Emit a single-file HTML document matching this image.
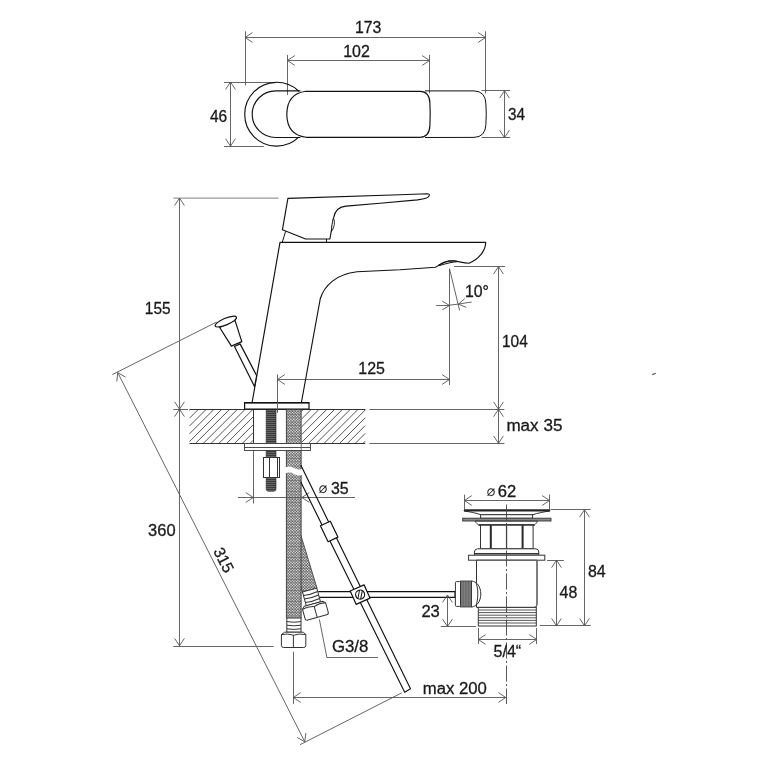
<!DOCTYPE html>
<html lang="en"><head><meta charset="utf-8"><title>Faucet dimensions</title>
<style>
html,body{margin:0;padding:0;background:#fff}
body{width:768px;height:768px;overflow:hidden}
svg{display:block;will-change:transform}
text{font-family:"Liberation Sans",Arial,sans-serif;fill:#1a1a1a;stroke:#1a1a1a;stroke-width:.3px}
.d{stroke:#555;stroke-width:.9;fill:none}
.g{stroke:#999;stroke-width:1.4;fill:none}
.k{stroke:#111;stroke-width:1.15;fill:none;stroke-linejoin:round;stroke-linecap:round}
.kt{stroke:#111;stroke-width:1;fill:none;stroke-linejoin:round}
.kw{stroke:#111;stroke-width:1.2;fill:#fff;stroke-linejoin:round}
.m{stroke:#333;stroke-width:1;fill:none}
.mw{stroke:#333;stroke-width:1;fill:#fff}
</style></head><body>
<svg width="768" height="768" viewBox="0 0 768 768">
<defs>
<pattern id="braid" patternUnits="userSpaceOnUse" width="11" height="11" x="286.3" y="409">
<rect width="11" height="11" fill="#383838"/>
<g fill="#fff"><circle cx="0.700" cy="0.700" r=".8"/><circle cx="2.075" cy="2.075" r=".8"/><circle cx="0.700" cy="3.450" r=".8"/><circle cx="2.075" cy="4.825" r=".8"/><circle cx="0.700" cy="6.200" r=".8"/><circle cx="2.075" cy="7.575" r=".8"/><circle cx="0.700" cy="8.950" r=".8"/><circle cx="2.075" cy="10.325" r=".8"/><circle cx="3.450" cy="0.700" r=".8"/><circle cx="4.825" cy="2.075" r=".8"/><circle cx="3.450" cy="3.450" r=".8"/><circle cx="4.825" cy="4.825" r=".8"/><circle cx="3.450" cy="6.200" r=".8"/><circle cx="4.825" cy="7.575" r=".8"/><circle cx="3.450" cy="8.950" r=".8"/><circle cx="4.825" cy="10.325" r=".8"/><circle cx="6.200" cy="0.700" r=".8"/><circle cx="7.575" cy="2.075" r=".8"/><circle cx="6.200" cy="3.450" r=".8"/><circle cx="7.575" cy="4.825" r=".8"/><circle cx="6.200" cy="6.200" r=".8"/><circle cx="7.575" cy="7.575" r=".8"/><circle cx="6.200" cy="8.950" r=".8"/><circle cx="7.575" cy="10.325" r=".8"/><circle cx="8.950" cy="0.700" r=".8"/><circle cx="10.325" cy="2.075" r=".8"/><circle cx="8.950" cy="3.450" r=".8"/><circle cx="10.325" cy="4.825" r=".8"/><circle cx="8.950" cy="6.200" r=".8"/><circle cx="10.325" cy="7.575" r=".8"/><circle cx="8.950" cy="8.950" r=".8"/><circle cx="10.325" cy="10.325" r=".8"/></g>
</pattern>
<pattern id="thread" patternUnits="userSpaceOnUse" width="4" height="2">
<rect width="4" height="2" fill="#3a3a3a"/>
<rect width="4" height=".7" fill="#777"/>
</pattern>
<pattern id="knurl" patternUnits="userSpaceOnUse" width="1.6" height="4">
<rect width="1.6" height="4" fill="#6a6a6a"/>
<rect width=".6" height="4" fill="#858585"/>
</pattern>
</defs>
<rect width="768" height="768" fill="#fff"/>

<g id="top-view">
<line class="d" x1="245.50" y1="31.30" x2="245.50" y2="85.50"/>
<line class="d" x1="485.50" y1="31.30" x2="485.50" y2="93.40"/>
<line class="d" x1="245.10" y1="37.50" x2="485.60" y2="37.50"/>
<polyline class="d" points="252.50,32.60 245.10,37.50 252.50,42.40"/>
<polyline class="d" points="478.20,42.40 485.60,37.50 478.20,32.60"/>
<line class="d" x1="287.50" y1="54.90" x2="287.50" y2="95.00"/>
<line class="d" x1="429.50" y1="54.90" x2="429.50" y2="93.40"/>
<line class="d" x1="287.40" y1="60.50" x2="429.60" y2="60.50"/>
<polyline class="d" points="294.80,55.60 287.40,60.50 294.80,65.40"/>
<polyline class="d" points="422.20,65.40 429.60,60.50 422.20,55.60"/>
<line class="d" x1="230.50" y1="82.00" x2="230.50" y2="146.10"/>
<polyline class="d" points="235.40,89.40 230.50,82.00 225.60,89.40"/>
<polyline class="d" points="225.60,138.70 230.50,146.10 235.40,138.70"/>
<line class="d" x1="224.00" y1="82.50" x2="274.70" y2="82.50"/>
<line class="d" x1="224.00" y1="146.50" x2="263.80" y2="146.50"/>
<line class="d" x1="504.50" y1="90.70" x2="504.50" y2="137.60"/>
<polyline class="d" points="509.40,98.10 504.50,90.70 499.60,98.10"/>
<polyline class="d" points="499.60,130.20 504.50,137.60 509.40,130.20"/>
<line class="d" x1="481.50" y1="90.50" x2="510.20" y2="90.50"/>
<line class="d" x1="481.50" y1="137.50" x2="510.20" y2="137.50"/>
<text x="354.90" y="33.00" font-size="16" textLength="26.4" lengthAdjust="spacingAndGlyphs">173</text>
<text x="343.20" y="57.00" font-size="16" textLength="26.6" lengthAdjust="spacingAndGlyphs">102</text>
<text x="210.00" y="122.00" font-size="16" textLength="17.2" lengthAdjust="spacingAndGlyphs">46</text>
<text x="508.00" y="120.00" font-size="16" textLength="17.0" lengthAdjust="spacingAndGlyphs">34</text>
<path class="k" d="M298.5,91 A31.9,31.9 0 1 0 298.5,137.4"/>
<path class="k" d="M300,90.9 L275.6,90.9 A23.4,23.3 0 0 0 275.6,137.5 L300,137.5"/>
<path class="kt" d="M425,90.9 L474,90.9 Q485.6,91.2 485.9,104 Q486.6,114.2 485.9,124.5 Q485.4,137 474,137.4 L425,137.5"/>
<path class="k" stroke-width="1.6" d="M306,91.3 L420,91.3 Q429.6,91.5 429.9,103 Q430.5,114.2 429.9,125.6 Q429.4,137 420,137.3 L306,137.3 Q287,135 286.8,114.3 Q287,93.6 306,91.3 Z"/>
</g>
<g id="side-view">
<line class="g" x1="173.30" y1="198.10" x2="278.50" y2="198.10"/>
<line class="d" x1="179.50" y1="198.10" x2="179.50" y2="645.80"/>
<polyline class="d" points="184.40,205.50 179.50,198.10 174.60,205.50"/>
<polyline class="d" points="174.60,401.80 179.50,409.20 184.40,401.80"/>
<polyline class="d" points="184.40,416.60 179.50,409.20 174.60,416.60"/>
<polyline class="d" points="174.60,638.40 179.50,645.80 184.40,638.40"/>
<line class="d" x1="173.30" y1="409.50" x2="188.00" y2="409.50"/>
<line class="d" x1="173.30" y1="646.50" x2="273.60" y2="646.50"/>
<text x="144.80" y="314.00" font-size="16" textLength="25.8" lengthAdjust="spacingAndGlyphs">155</text>
<text x="148.10" y="536.00" font-size="16" textLength="27.5" lengthAdjust="spacingAndGlyphs">360</text>
<line class="d" x1="117.80" y1="372.70" x2="304.80" y2="741.80"/>
<polyline class="d" points="125.52,377.09 117.80,372.70 116.77,381.52"/>
<polyline class="d" points="297.08,737.41 304.80,741.80 305.83,732.98"/>
<line class="d" x1="112.30" y1="374.60" x2="216.70" y2="322.00"/>
<line class="d" x1="300.00" y1="744.70" x2="401.70" y2="692.90"/>
<text font-size="16" text-anchor="middle" textLength="26" lengthAdjust="spacingAndGlyphs" transform="translate(223.9,559.9) rotate(63.13)" x="0" y="5.7">315</text>
<line class="d" x1="277.50" y1="374.50" x2="277.50" y2="412.50"/>
<line class="d" x1="449.50" y1="268.70" x2="449.50" y2="385.00"/>
<line class="d" x1="277.40" y1="379.50" x2="449.50" y2="379.50"/>
<polyline class="d" points="284.80,374.60 277.40,379.50 284.80,384.40"/>
<polyline class="d" points="442.10,384.40 449.50,379.50 442.10,374.60"/>
<text x="358.30" y="374.00" font-size="16" textLength="26.6" lengthAdjust="spacingAndGlyphs">125</text>
<line class="d" x1="454.00" y1="266.50" x2="505.00" y2="266.50"/>
<line class="d" x1="498.50" y1="266.60" x2="498.50" y2="443.30"/>
<polyline class="d" points="503.40,274.00 498.50,266.60 493.60,274.00"/>
<polyline class="d" points="493.60,401.90 498.50,409.30 503.40,401.90"/>
<polyline class="d" points="503.40,416.70 498.50,409.30 493.60,416.70"/>
<polyline class="d" points="493.60,435.90 498.50,443.30 503.40,435.90"/>
<text x="502.00" y="347.00" font-size="16" textLength="25.8" lengthAdjust="spacingAndGlyphs">104</text>
<line class="d" x1="369.40" y1="409.50" x2="504.40" y2="409.50"/>
<line class="d" x1="369.40" y1="443.50" x2="504.40" y2="443.50"/>
<text x="506.40" y="431.00" font-size="16" textLength="56.0" lengthAdjust="spacingAndGlyphs">max 35</text>
<line class="d" x1="449.50" y1="268.70" x2="459.60" y2="310.40"/>
<line class="d" x1="436.20" y1="305.50" x2="449.50" y2="305.50"/>
<line class="d" x1="449.50" y1="305.20" x2="458.30" y2="304.10"/>
<polyline class="d" points="442.20,309.90 449.50,305.50 442.20,301.10"/>
<line class="d" x1="471.70" y1="302.00" x2="458.30" y2="304.10"/>
<polyline class="d" points="464.83,298.62 458.30,304.10 466.19,307.32"/>
<text x="464.90" y="297.00" font-size="16" textLength="24.0" lengthAdjust="spacingAndGlyphs">10°</text>
<path d="M190.40,409.50L189.50,410.40M198.20,409.50L189.50,418.20M206.00,409.50L189.50,426.00M213.80,409.50L189.50,433.80M221.60,409.50L189.50,441.60M229.40,409.50L195.40,443.50M237.20,409.50L203.20,443.50M245.00,409.50L211.00,443.50M252.80,409.50L218.80,443.50M253.30,416.80L226.60,443.50M253.30,424.60L234.40,443.50M253.30,432.40L242.20,443.50M253.30,440.20L250.00,443.50" stroke="#2a2a2a" stroke-width=".8" fill="none"/>
<path d="M303.30,409.50L301.70,411.10M311.10,409.50L301.70,418.90M318.90,409.50L301.70,426.70M326.70,409.50L301.70,434.50M334.50,409.50L301.70,442.30M342.30,409.50L308.30,443.50M350.10,409.50L316.10,443.50M357.90,409.50L323.90,443.50M365.30,409.90L331.70,443.50M365.30,417.70L339.50,443.50M365.30,425.50L347.30,443.50M365.30,433.30L355.10,443.50M365.30,441.10L362.90,443.50" stroke="#2a2a2a" stroke-width=".8" fill="none"/>
<line class="m" x1="189.50" y1="409.50" x2="365.30" y2="409.50"/>
<line class="m" x1="189.50" y1="443.50" x2="365.30" y2="443.50"/>
<line class="m" x1="253.50" y1="409.30" x2="253.50" y2="443.30"/>
<path d="M266.2,409.5 L276,409.5 L276,489 Q276,491.3 273.6,491.3 L268.6,491.3 Q266.2,491.3 266.2,489 Z" fill="url(#thread)" stroke="#222" stroke-width=".6"/>
<path d="M300.8,535 L317,588.2 L302.4,592 L292,555 Z" fill="url(#braid)" stroke="#333" stroke-width=".8"/>
<rect x="286.4" y="409.5" width="14.8" height="208.6" fill="url(#braid)"/>
<path d="M286.4,409.5 V618 M301.1,409.5 V618" stroke="#444" stroke-width="1" fill="none"/>
<path d="M285,467.5 Q290,465.5 294,468 Q298,470.5 303,468.5 L303,474.5 Q298,476.5 294,474 Q290,471.5 285,473.5 Z" fill="#fff"/>
<rect x="244.5" y="443.5" width="66" height="7" fill="#fff" stroke="#3a3a3a" stroke-width=".9"/>
<line x1="244.5" y1="447.5" x2="310.5" y2="447.5" stroke="#3a3a3a" stroke-width=".9"/>
<line x1="301.2" y1="443.5" x2="301.2" y2="450.5" stroke="#666" stroke-width=".9"/>
<line class="d" x1="253.50" y1="450.50" x2="253.50" y2="503.50"/>
<line class="d" x1="237.90" y1="497.50" x2="355.00" y2="497.50"/>
<polyline class="d" points="245.80,502.40 253.20,497.50 245.80,492.60"/>
<polyline class="d" points="309.30,492.60 301.90,497.50 309.30,502.40"/>
<text font-size="16"><tspan x="318.6" y="493.2" font-size="14.7" font-family="'Liberation Sans','DejaVu Sans',sans-serif" style="stroke-width:0">⌀</tspan> <tspan x="331" y="494" textLength="17.7" lengthAdjust="spacingAndGlyphs">35</tspan></text>
<rect class="mw" x="263.5" y="457.5" width="16" height="20"/>
<line class="m" x1="269.50" y1="457.50" x2="269.50" y2="477.50"/>
<line class="m" x1="277.50" y1="457.50" x2="277.50" y2="477.50"/>
<rect class="kw" x="244.6" y="402.7" width="64.4" height="6.3" stroke-width="1.5"/>
<line class="k" x1="244.60" y1="402.80" x2="309.00" y2="402.80"/>
<line class="d" x1="277.50" y1="400.00" x2="277.50" y2="412.50"/>
<path class="k" d="M252.2,402 L280,242.3 L485.7,242.3 C485.7,249 481,258 469,263.3 C464,263.2 459,261.6 455,261 C448.5,260.2 443.5,262.6 435.4,267.2 L400,269.8 L357,271.8 C336,274 324,286 320.2,299 L301.5,402"/>
<path class="kt" d="M438,265.6 C444,260.6 452,260 458,261.6 C452,262 446,263.6 440,265.4 Z" fill="#fff"/>
<path class="k" d="M287.9,198.4 L400,194.7 L427,193.7 C430.5,193.7 430,196.5 426.5,198 C424,199 420,199.6 417.5,199.9 L380,203.2 L346,206.1 C338.5,206.7 335,210.5 333.7,217.5 L329.9,239 L305.6,239 L282.4,229.8 Z"/>
<path d="M333.4,218 C335.2,222 334.6,227 331.4,231.6 C331.6,227 332.2,222 333.4,218 Z" fill="#fff" stroke="#111" stroke-width=".9" stroke-linejoin="round"/>
<line class="kt" x1="285.60" y1="231.30" x2="282.30" y2="242.20"/>
<line class="kt" x1="326.50" y1="239.00" x2="326.50" y2="242.20"/>
<path class="kw" d="M234.5,346.5 L254.5,386.5 L256.7,375.7 L240.1,343.9 Z"/>
<path class="kw" d="M219.7,327.5 L231.4,346.1 L241.8,341.6 L234.9,320.1 Z"/>
<ellipse class="kw" cx="225.8" cy="321.6" rx="11.5" ry="3.3" transform="rotate(-22.8 225.8 321.6)"/>
</g>
<g id="lower">
<path class="k" stroke-width="1.1" d="M301,465.6 L410.5,688.8 L404.7,692.3 L300.9,482.2"/>
<path class="kw" stroke-width="1.1" d="M318.3,591.7 L455,591.7 L455,597.4 L318.3,597.4"/>
<path class="kw" d="M320.4,525.7 L330.3,521.2 L337.9,537.1 L328.1,541.8 Z"/>
<g transform="translate(360.1,594.6) rotate(-24)"><rect class="kw" x="-7.6" y="-7.3" width="15.2" height="14.6"/><circle class="kw" cx="0" cy="0" r="4.5" stroke-width="1"/><path class="kt" d="M-1.2,4.2 L3.6,-2.7 M-3.6,2.7 L1.2,-4.2" stroke-width=".8"/></g>
<rect class="mw" x="286.8" y="618" width="14.2" height="14.2"/>
<path class="m" d="M286.8,621.6 Q293.9,622.8 301,621.6 M286.8,625.2 Q293.9,626.4 301,625.2 M286.8,628.8 Q293.9,630 301,628.8"/>
<path class="mw" stroke-width="1.15" d="M284.6,632.2 L303.4,632.2 L305.8,634.6 L305.8,645.6 Q305.8,647.5 303.5,647.5 L283.6,647.5 Q281.4,647.5 281.4,645.6 L281.4,634.6 Z"/>
<path class="m" d="M281.4,634.6 Q287.4,633.2 293.4,635.2 Q299.4,633.2 305.8,634.6 M293.4,635.2 V647.5"/>
<g transform="translate(309.6,590) rotate(-15.5)"><rect class="mw" x="-7.4" y="0" width="14.8" height="14.3"/><path class="m" d="M-7.4,3.6 Q0,4.8 7.4,3.6 M-7.4,7.2 Q0,8.4 7.4,7.2 M-7.4,10.8 Q0,12 7.4,10.8"/><path class="mw" stroke-width="1.15" d="M-9.6,14.3 L9.6,14.3 L12,16.6 L12,26.6 Q12,28.5 9.8,28.5 L-9.8,28.5 Q-12,28.5 -12,26.6 L-12,16.6 Z"/><path class="m" d="M-12,16.6 Q-6,15.2 0,17.2 Q6,15.2 12,16.6 M0,17.2 V28.5"/></g>
<polyline class="d" points="319.4,619.4 326.9,657.5 378,657.5"/>
<text x="331.90" y="652.00" font-size="16" textLength="36.4" lengthAdjust="spacingAndGlyphs">G3/8</text>
<line class="d" x1="293.50" y1="651.70" x2="293.50" y2="703.80"/>
<line class="d" x1="293.30" y1="697.50" x2="505.80" y2="697.50"/>
<polyline class="d" points="300.70,692.60 293.30,697.50 300.70,702.40"/>
<polyline class="d" points="498.40,702.40 505.80,697.50 498.40,692.60"/>
<text x="422.80" y="694.00" font-size="16" textLength="64.0" lengthAdjust="spacingAndGlyphs">max 200</text>
</g>
<g id="drain">
<line class="d" x1="464.50" y1="494.60" x2="464.50" y2="509.60"/>
<line class="d" x1="549.50" y1="494.60" x2="549.50" y2="509.60"/>
<line class="d" x1="464.40" y1="500.50" x2="549.60" y2="500.50"/>
<polyline class="d" points="471.80,495.60 464.40,500.50 471.80,505.40"/>
<polyline class="d" points="542.20,505.40 549.60,500.50 542.20,495.60"/>
<text font-size="16"><tspan x="486.5" y="495.6" font-size="14.7" font-family="'Liberation Sans','DejaVu Sans',sans-serif" style="stroke-width:0">⌀</tspan> <tspan x="497.8" y="497" textLength="18.4" lengthAdjust="spacingAndGlyphs">62</tspan></text>
<path class="mw" d="M464.2,510 L549.8,510 L549.8,511 C543,512 538,513 533,514.7 L480.6,514.7 C476,513 471,512 464.2,511 Z"/>
<line x1="464" y1="510.5" x2="550" y2="510.5" stroke="#222" stroke-width="2"/>
<rect class="mw" x="480.6" y="514.7" width="52" height="3.6"/>
<rect x="462.7" y="518.2" width="88.3" height="2.8" fill="#8a8a8a" stroke="#333" stroke-width=".9"/>
<path class="mw" d="M475,521.2 L537.6,521.2 C536.6,523 535.8,524 534.5,525 L478.7,525 C477.4,524 476,523 475,521.2 Z"/>
<line x1="478.7" y1="525" x2="534.5" y2="525" stroke="#222" stroke-width="1.5"/>
<rect class="mw" x="480.5" y="525.2" width="52.6" height="23.6"/>
<rect x="489.8" y="525.2" width="2" height="23.6" fill="#2a2a2a"/><rect x="521.6" y="525.2" width="2" height="23.6" fill="#2a2a2a"/><rect x="505.9" y="525.2" width="1.3" height="23.6" fill="#444"/>
<path class="mw" d="M477.5,548.8 L536,548.8 Q538.8,549.2 538.8,552 L538.8,555 L474.4,555 L474.4,552 Q474.4,549.2 477.5,548.8 Z"/>
<line class="m" x1="474.40" y1="553.50" x2="538.80" y2="553.50"/>
<rect class="mw" x="468.6" y="555.2" width="76.2" height="5"/>
<path class="mw" d="M476.5,560.2 L537,560.2 L537,604.5 Q537,607.4 534,607.4 L478.3,607.4 L476.5,607.4 Z"/>
<line x1="537" y1="560.5" x2="537" y2="605" stroke="#777" stroke-width="1.6"/>
<rect class="mw" x="478.3" y="607.4" width="58" height="18.6" stroke-width="1.2"/>
<line x1="478.3" y1="610" x2="536.3" y2="610" stroke="#444" stroke-width=".9"/>
<line x1="478.3" y1="612.6" x2="536.3" y2="612.6" stroke="#444" stroke-width=".9"/>
<line x1="478.3" y1="615.2" x2="536.3" y2="615.2" stroke="#444" stroke-width=".9"/>
<line x1="478.3" y1="617.8" x2="536.3" y2="617.8" stroke="#444" stroke-width=".9"/>
<line x1="478.3" y1="620.4" x2="536.3" y2="620.4" stroke="#444" stroke-width=".9"/>
<line x1="478.3" y1="623" x2="536.3" y2="623" stroke="#444" stroke-width=".9"/>
<path class="mw" d="M471.5,581 C477,581.4 480.8,587 480.8,594 C480.8,601 477,606.6 471.5,607 Z"/>
<path class="m" d="M476,582.6 C478.4,589 478.4,599 476,605.4" stroke-width=".8"/>
<rect x="460.5" y="581" width="11" height="26" fill="url(#knurl)" stroke="#333" stroke-width=".8"/>
<rect class="mw" x="455.4" y="581.6" width="5.1" height="24.8" rx="1"/>
<line x1="506.5" y1="504.5" x2="506.5" y2="704" stroke="#444" stroke-width=".9" stroke-dasharray="16 2.5 2 2.5"/>
<line class="d" x1="550.70" y1="509.50" x2="590.70" y2="509.50"/>
<line class="d" x1="539.80" y1="625.50" x2="590.70" y2="625.50"/>
<line class="d" x1="584.50" y1="509.70" x2="584.50" y2="625.80"/>
<polyline class="d" points="589.40,517.10 584.50,509.70 579.60,517.10"/>
<polyline class="d" points="579.60,618.40 584.50,625.80 589.40,618.40"/>
<text x="588.00" y="577.00" font-size="16" textLength="17.7" lengthAdjust="spacingAndGlyphs">84</text>
<line class="d" x1="547.00" y1="560.50" x2="563.80" y2="560.50"/>
<line class="d" x1="556.50" y1="560.20" x2="556.50" y2="625.80"/>
<polyline class="d" points="561.40,567.60 556.50,560.20 551.60,567.60"/>
<polyline class="d" points="551.60,618.40 556.50,625.80 561.40,618.40"/>
<text x="559.60" y="598.00" font-size="16" textLength="17.7" lengthAdjust="spacingAndGlyphs">48</text>
<line class="d" x1="440.80" y1="626.50" x2="476.00" y2="626.50"/>
<line class="d" x1="447.50" y1="595.00" x2="447.50" y2="626.50"/>
<polyline class="d" points="452.40,602.40 447.50,595.00 442.60,602.40"/>
<polyline class="d" points="442.60,619.10 447.50,626.50 452.40,619.10"/>
<text x="421.40" y="617.00" font-size="16" textLength="18.4" lengthAdjust="spacingAndGlyphs">23</text>
<line class="d" x1="478.50" y1="628.00" x2="478.50" y2="644.00"/>
<line class="d" x1="536.50" y1="628.00" x2="536.50" y2="644.00"/>
<line class="d" x1="478.30" y1="639.50" x2="536.70" y2="639.50"/>
<polyline class="d" points="485.70,634.60 478.30,639.50 485.70,644.40"/>
<polyline class="d" points="529.30,644.40 536.70,639.50 529.30,634.60"/>
<text x="493.60" y="657.00" font-size="16" textLength="27.6" lengthAdjust="spacingAndGlyphs">5/4“</text>
</g>
<path d="M652.3,374.6 L655.8,373.2" stroke="#555" stroke-width="1.2" fill="none"/>
</svg></body></html>
